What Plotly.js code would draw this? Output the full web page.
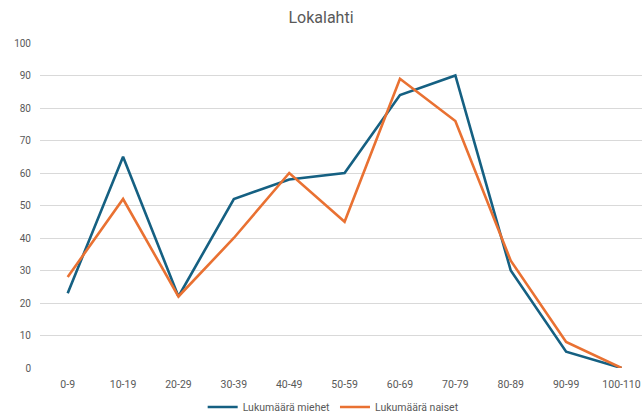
<!DOCTYPE html>
<html>
<head>
<meta charset="utf-8">
<script src="https://cdn.plot.ly/plotly-3.0.1.min.js"></script>
<style>html,body{margin:0;padding:0;background:#fff;}#chart{width:642px;height:414px;}</style>
</head>
<body>
<div id="chart"></div>
<script>
const categories = ["0-9","10-19","20-29","30-39","40-49","50-59","60-69","70-79","80-89","90-99","100-110"];
const miehet = [23, 65, 22, 52, 58, 60, 84, 90, 30, 5, 0];
const naiset = [28, 52, 22, 40, 60, 45, 89, 76, 33, 8, 0];
const yTicks = [0,10,20,30,40,50,60,70,80,90,100];

const traces = [
  {x: categories, y: miehet, name: "Lukumäärä miehet", type: "scatter", mode: "lines",
   line: {color: "#156082", width: 2.6}},
  {x: categories, y: naiset, name: "Lukumäärä naiset", type: "scatter", mode: "lines",
   line: {color: "#E97132", width: 2.6}}
];

const layout = {
  width: 642, height: 414,
  margin: {l: 40, r: 0, t: 43, b: 46, autoexpand: false},
  paper_bgcolor: "#fff", plot_bgcolor: "#fff",
  font: {family: "Roboto, 'Open Sans', sans-serif", color: "#595959", size: 10.5},
  title: {text: "Lokalahti", font: {size: 16, color: "#595959"}, x: 0.5, xanchor: "center", y: 0.958, yanchor: "middle", yref: "container"},
  xaxis: {type: "category", range: [-0.5, 10.37], showgrid: false, zeroline: false, showline: false,
          ticks: "", tickfont: {size: 10.5, color: "#595959"}, ticklabelstandoff: 8, automargin: false},
  yaxis: {range: [0, 100], tickvals: yTicks, showgrid: true, gridcolor: "#d9d9d9", gridwidth: 1,
          zeroline: false, showline: false, ticks: "", tickfont: {size: 10, color: "#595959"}, ticklabelstandoff: 8, automargin: false},
  showlegend: true,
  legend: {orientation: "h", x: 0.487, xanchor: "center", y: 0.017, yref: "container", yanchor: "middle",
           font: {size: 10.5, color: "#595959"}, itemwidth: 30, tracegroupgap: 0}
};

Plotly.newPlot("chart", traces, layout, {displayModeBar: false, staticPlot: true});
</script>
</body>
</html>
